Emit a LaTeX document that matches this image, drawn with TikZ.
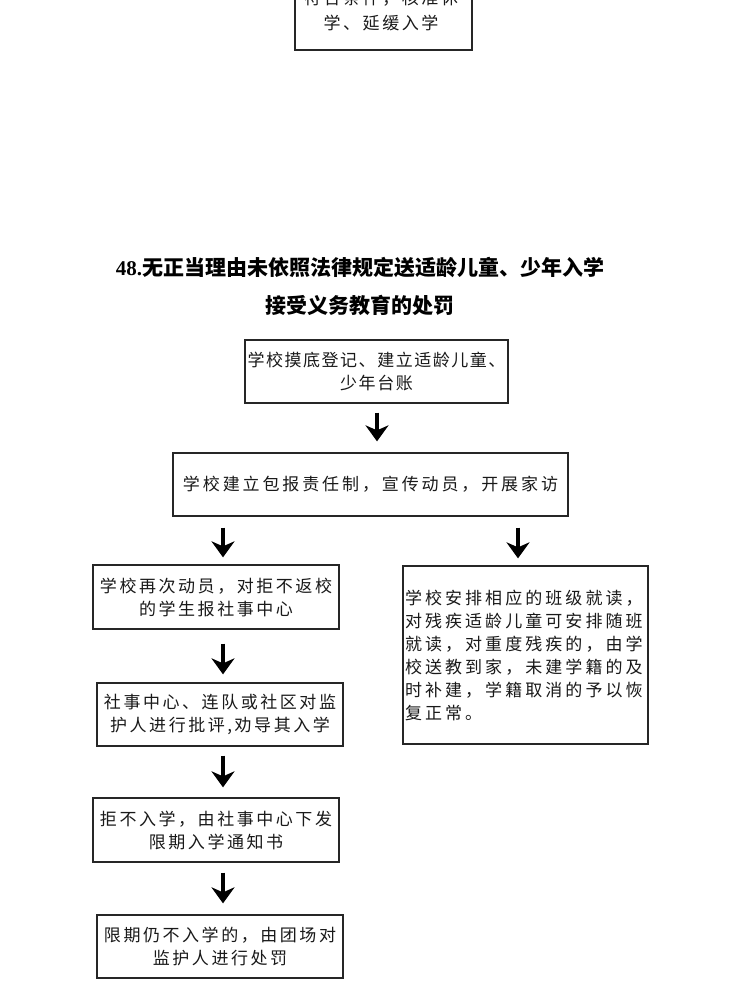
\documentclass[tikz,border=0pt]{standalone}
\usepackage{fontspec}
\usetikzlibrary{arrows.meta}
\newfontfamily\cjkA[LetterSpace=15]{Noto Sans CJK SC}
\newfontfamily\cjkB[LetterSpace=9]{Noto Sans CJK SC}
\newfontfamily\cjkC[LetterSpace=17]{Noto Sans CJK SC}
\newfontfamily\cjkD[LetterSpace=18]{Noto Sans CJK SC}
\newfontfamily\cjkT{Noto Sans CJK SC}
\newfontfamily\latT{Liberation Serif}
\begin{document}
\begin{tikzpicture}[x=1pt,y=-1pt,
  box/.style={draw=black!85,line width=1.3pt,inner sep=2pt,align=center,text=black!90},
  arr/.style={line width=3.6pt,black,-{Stealth[length=16pt,width=23pt,inset=5pt]}},
  bfont/.style={font=\cjkA\fontsize{17}{23}\selectfont}]
\useasboundingbox (0,0) rectangle (730,987);
\clip (0,0) rectangle (730,987);
\fill[white] (0,0) rectangle (730,987);
% top (cut) box
\node[box,bfont,minimum width=177pt,minimum height=100pt] (b0) at (383.5,0) {};
\node[bfont,text=black!90,anchor=center] (t0a) at (381,-2) {符合条件，核准休};
\node[bfont,text=black!90,anchor=center] (t0b) at (381,23) {学、延缓入学};
% title
\node[align=center,font=\fontsize{21}{38}\selectfont] (title) at (360,286)
  {{\latT\bfseries 48.}{\cjkT\bfseries 无正当理由未依照法律规定送适龄儿童、少年入学}\\
   {\cjkT\bfseries 接受义务教育的处罚}};
% boxes
\node[box,font=\cjkB\fontsize{17}{23}\selectfont,minimum width=263pt,minimum height=63pt] (b2) at (376.5,371.5)
  {学校摸底登记、建立适龄儿童、\\少年台账};
\node[box,font=\cjkC\fontsize{17}{23}\selectfont,minimum width=395pt,minimum height=63pt] (b3) at (370.5,484.5)
  {学校建立包报责任制，宣传动员，开展家访};
\node[box,bfont,minimum width=246pt,minimum height=64pt] (b5) at (216,597)
  {学校再次动员，对拒不返校\\的学生报社事中心};
\node[box,font=\cjkD\fontsize{17}{23}\selectfont,minimum width=245pt,minimum height=178pt,align=left,text width=241pt,inner xsep=2pt] (br) at (525.5,655)
  {学校安排相应的班级就读，\\对残疾适龄儿童可安排随班\\就读，对重度残疾的，由学\\校送教到家，未建学籍的及\\时补建，学籍取消的予以恢\\复正常。};
\node[box,bfont,minimum width=246pt,minimum height=63pt] (b6) at (220,714.5)
  {社事中心、连队或社区对监\\护人进行批评,劝导其入学};
\node[box,bfont,minimum width=246pt,minimum height=64pt] (b7) at (216,830)
  {拒不入学，由社事中心下发\\限期入学通知书};
\node[box,bfont,minimum width=246pt,minimum height=63pt] (b8) at (220,946.5)
  {限期仍不入学的，由团场对\\监护人进行处罚};
% arrow columns
\coordinate (cm) at (377,0);
\coordinate (cl) at (223,0);
\coordinate (cr) at (518,0);
\draw[arr,shorten <=9pt,shorten >=11pt] (b2.south -| cm) -- (b3.north -| cm);
\draw[arr,shorten <=11pt,shorten >=7pt] (b3.south -| cl) -- (b5.north -| cl);
\draw[arr,shorten <=11pt,shorten >=7pt] (b3.south -| cr) -- (br.north -| cr);
\draw[arr,shorten <=14pt,shorten >=8pt] (b5.south -| cl) -- (b6.north -| cl);
\draw[arr,shorten <=9pt,shorten >=10pt] (b6.south -| cl) -- (b7.north -| cl);
\draw[arr,shorten <=10pt,shorten >=11pt] (b7.south -| cl) -- (b8.north -| cl);
\end{tikzpicture}
\end{document}
